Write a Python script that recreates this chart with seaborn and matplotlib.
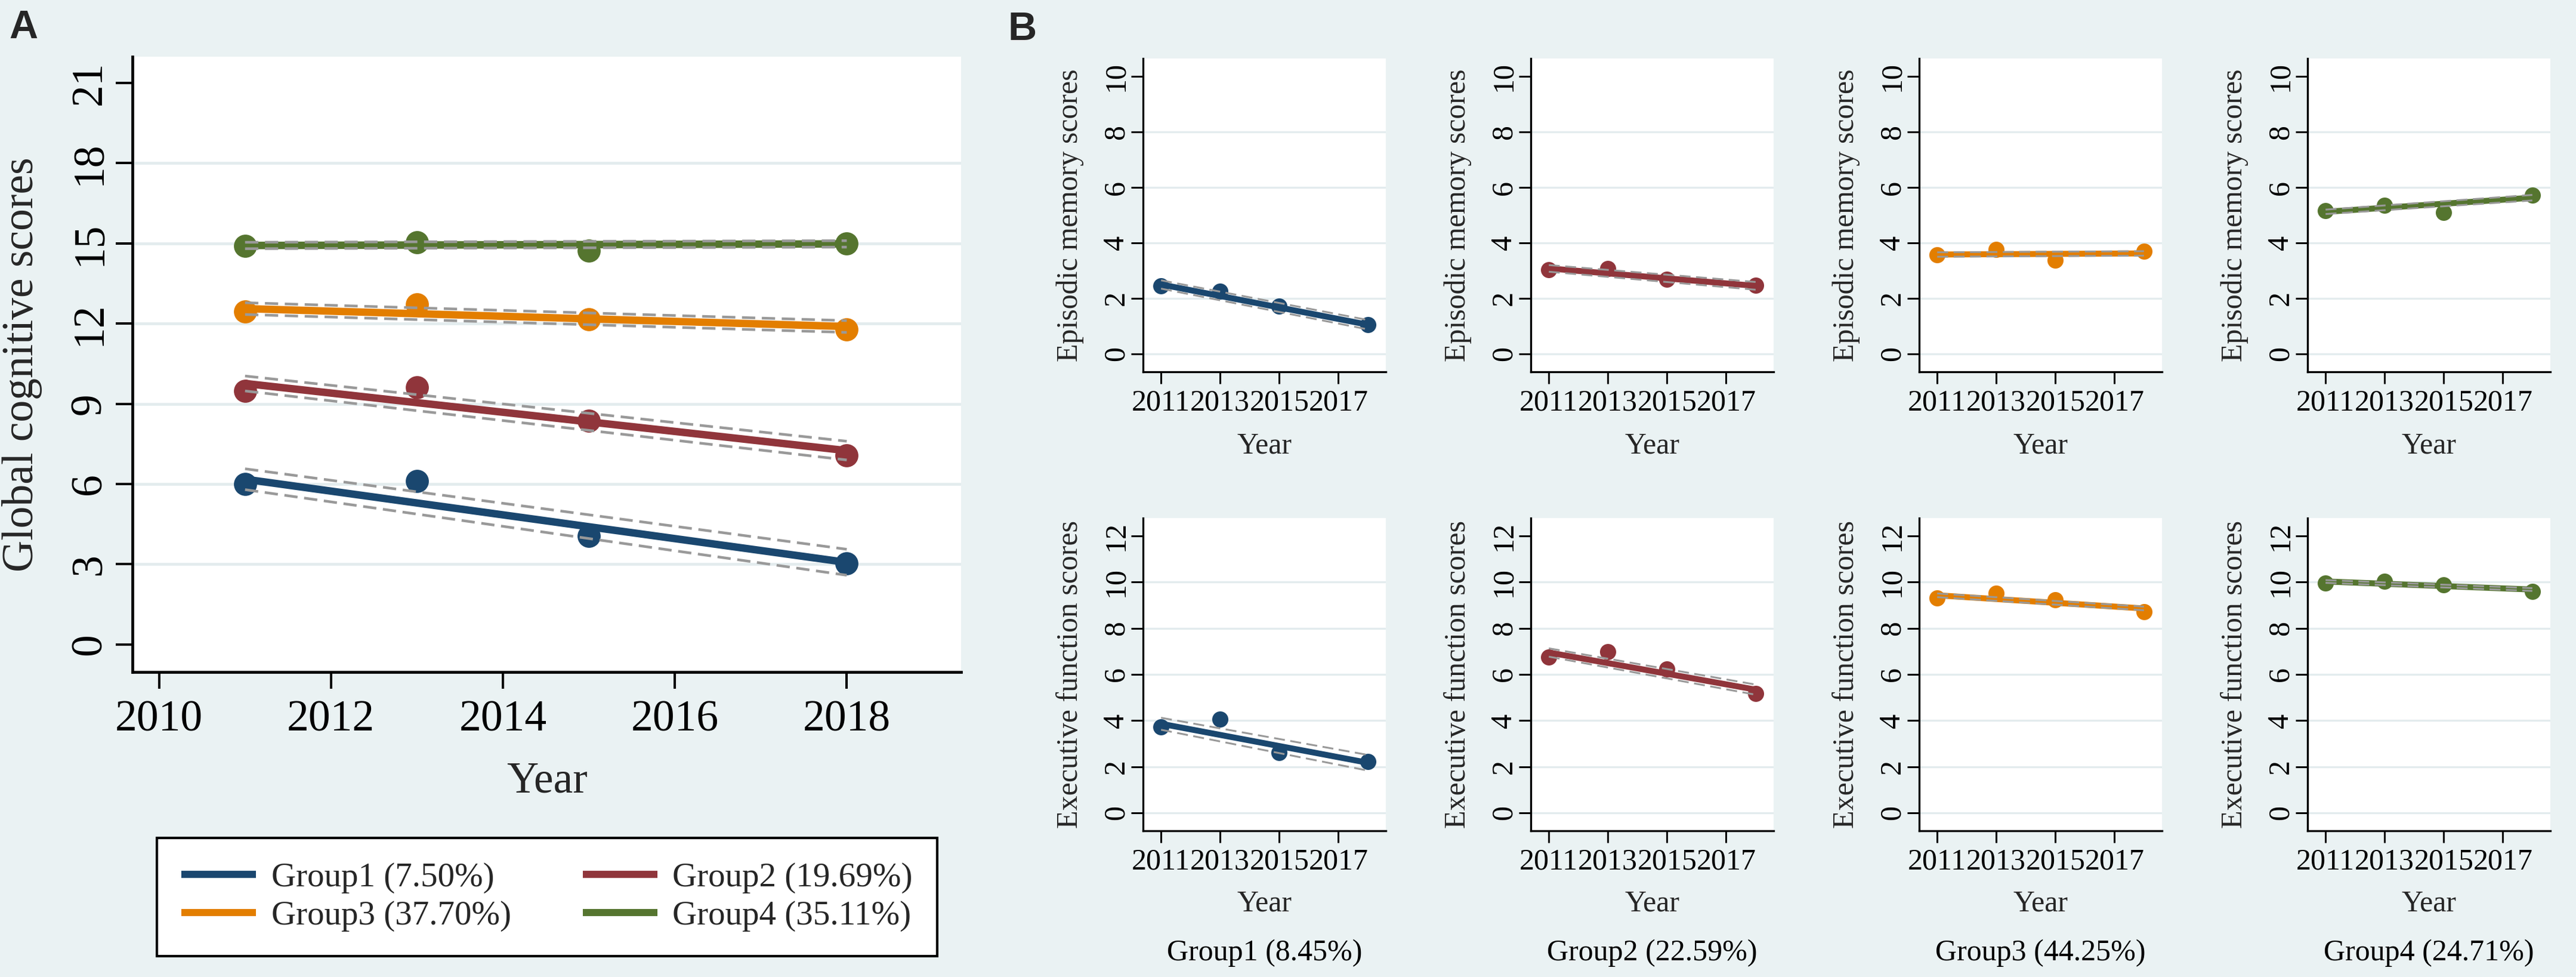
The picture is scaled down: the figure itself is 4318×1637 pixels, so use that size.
import matplotlib
matplotlib.use("Agg")
import matplotlib.pyplot as plt
import numpy as np
import pandas as pd
import seaborn as sns

# ---------------- data ----------------
years = [2011, 2013, 2015, 2018]
fit_years = [2011, 2018]
group_names = ["Group1", "Group2", "Group3", "Group4"]
legend_labels_A = ["Group1 (7.50%)", "Group2 (19.69%)", "Group3 (37.70%)", "Group4 (35.11%)"]
group_labels_B = ["Group1 (8.45%)", "Group2 (22.59%)", "Group3 (44.25%)", "Group4 (24.71%)"]

# Panel A: global cognitive scores
gcs_g1 = [6.00, 6.11, 4.06, 3.04]
gcs_g2 = [9.48, 9.61, 8.37, 7.07]
gcs_g3 = [12.44, 12.72, 12.17, 11.78]
gcs_g4 = [14.90, 15.04, 14.72, 15.00]
gcs_fit_g1 = [6.18, 3.07]; gcs_lo_g1 = [5.79, 2.59]; gcs_hi_g1 = [6.57, 3.56]
gcs_fit_g2 = [9.76, 7.25]; gcs_lo_g2 = [9.48, 6.90]; gcs_hi_g2 = [10.04, 7.60]
gcs_fit_g3 = [12.56, 11.89]; gcs_lo_g3 = [12.34, 11.67]; gcs_hi_g3 = [12.78, 12.11]
gcs_fit_g4 = [14.92, 14.98]; gcs_lo_g4 = [14.80, 14.86]; gcs_hi_g4 = [15.04, 15.10]

# Panel B top: episodic memory scores
epi_g1 = [2.45, 2.25, 1.72, 1.04]
epi_g2 = [3.03, 3.08, 2.68, 2.47]
epi_g3 = [3.57, 3.76, 3.38, 3.69]
epi_g4 = [5.17, 5.36, 5.10, 5.73]
epi_fit_g1 = [2.50, 1.05]; epi_lo_g1 = [2.35, 0.88]; epi_hi_g1 = [2.65, 1.22]
epi_fit_g2 = [3.08, 2.45]; epi_lo_g2 = [2.96, 2.31]; epi_hi_g2 = [3.20, 2.59]
epi_fit_g3 = [3.58, 3.62]; epi_lo_g3 = [3.50, 3.54]; epi_hi_g3 = [3.66, 3.70]
epi_fit_g4 = [5.12, 5.63]; epi_lo_g4 = [5.04, 5.53]; epi_hi_g4 = [5.20, 5.73]

# Panel B bottom: executive function scores
exe_g1 = [3.71, 4.07, 2.60, 2.22]
exe_g2 = [6.76, 6.99, 6.23, 5.16]
exe_g3 = [9.32, 9.52, 9.24, 8.72]
exe_g4 = [9.96, 10.03, 9.89, 9.59]
exe_fit_g1 = [3.86, 2.17]; exe_lo_g1 = [3.60, 1.83]; exe_hi_g1 = [4.12, 2.51]
exe_fit_g2 = [6.95, 5.34]; exe_lo_g2 = [6.77, 5.12]; exe_hi_g2 = [7.13, 5.56]
exe_fit_g3 = [9.43, 8.86]; exe_lo_g3 = [9.35, 8.78]; exe_hi_g3 = [9.51, 8.94]
exe_fit_g4 = [10.03, 9.68]; exe_lo_g4 = [9.97, 9.62]; exe_hi_g4 = [10.09, 9.74]

xticks_A = [2010, 2012, 2014, 2016, 2018]
yticks_A = [0, 3, 6, 9, 12, 15, 18, 21]
xticks_B = [2011, 2013, 2015, 2017]
yticks_epi = [0, 2, 4, 6, 8, 10]
yticks_exe = [0, 2, 4, 6, 8, 10, 12]

# ---------------- style ----------------
colors = ["#1a476f", "#90353b", "#e37e00", "#55752f"]
BG = "#eaf2f3"
GRID = "#e3ecee"
CI_COLOR = "#999999"

sns.set_theme(style="white")
plt.rcParams["font.family"] = ["Liberation Serif", "DejaVu Serif"]

W, H, DPI = 4318, 1637, 100
fig = plt.figure(figsize=(W / DPI, H / DPI), dpi=DPI, facecolor=BG)


def add_ax(left, top, right, bottom):
    return fig.add_axes([left / W, 1 - bottom / H, (right - left) / W, (bottom - top) / H])


def style_ax(ax, spine_w, tick_len, tick_w, fs, xpad, ypad):
    ax.set_facecolor("white")
    for s in ["top", "right"]:
        ax.spines[s].set_visible(False)
    for s in ["left", "bottom"]:
        ax.spines[s].set_color("black")
        ax.spines[s].set_linewidth(spine_w)
    ax.tick_params(axis="both", which="major", direction="out", length=tick_len,
                   width=tick_w, color="black", labelsize=fs, labelcolor="black",
                   left=True, bottom=True)
    ax.tick_params(axis="x", pad=xpad)
    ax.tick_params(axis="y", pad=ypad, labelrotation=90)
    for lab in ax.get_yticklabels():
        lab.set_va("center")


def draw_group(ax, means, fit, lo, hi, color, ms, lw, cilw, dash, label=None):
    dfp = pd.DataFrame({"year": years, "score": means})
    sns.scatterplot(data=dfp, x="year", y="score", ax=ax, color=color, s=ms,
                    linewidth=0, zorder=3, legend=False)
    dff = pd.DataFrame({"year": fit_years, "fit": fit, "lo": lo, "hi": hi})
    sns.lineplot(data=dff, x="year", y="fit", ax=ax, color=color, linewidth=lw,
                 zorder=4, errorbar=None, label=label, legend=False,
                 solid_capstyle="butt")
    for col in ["lo", "hi"]:
        sns.lineplot(data=dff, x="year", y=col, ax=ax, color=CI_COLOR, linewidth=cilw,
                     linestyle=(0, dash), zorder=5, errorbar=None, legend=False)


# ---------------- Panel A ----------------
axA = add_ax(222, 95, 1611, 1126)
gcs_means = [gcs_g1, gcs_g2, gcs_g3, gcs_g4]
gcs_fits = [gcs_fit_g1, gcs_fit_g2, gcs_fit_g3, gcs_fit_g4]
gcs_los = [gcs_lo_g1, gcs_lo_g2, gcs_lo_g3, gcs_lo_g4]
gcs_his = [gcs_hi_g1, gcs_hi_g2, gcs_hi_g3, gcs_hi_g4]
for gv in yticks_A[1:-1]:
    axA.axhline(gv, color=GRID, linewidth=3.4, zorder=0)
for i in range(4):
    draw_group(axA, gcs_means[i], gcs_fits[i], gcs_los[i], gcs_his[i], colors[i],
               ms=780, lw=9, cilw=3.2, dash=(5, 2.5), label=legend_labels_A[i])
axA.set_xlim(2009.69, 2019.33)
axA.set_ylim(-1.03, 21.98)
axA.set_xticks(xticks_A)
axA.set_yticks(yticks_A)
style_ax(axA, 3.4, 20, 2.9, 53, 13.5, 7)
axA.set_xlabel("Year", fontsize=53)
axA.xaxis.set_label_coords(0.5, -0.1455)
axA.set_ylabel("Global cognitive scores", fontsize=53)
axA.yaxis.set_label_coords(-0.109, 0.5)

# legend for panel A (row-wise order: Group1, Group2 / Group3, Group4)
order = [0, 2, 1, 3]
handles = [plt.Line2D([], [], color=colors[i], linewidth=8.6, solid_capstyle="butt") for i in order]
labels = [legend_labels_A[i] for i in order]
leg = fig.legend(handles, labels, loc="center", bbox_to_anchor=(917 / W, 1 - 1503 / H),
                 ncol=2, fontsize=41, frameon=True, fancybox=False, edgecolor="black",
                 facecolor="white", framealpha=1, handlelength=2.2, handletextpad=0.45,
                 columnspacing=2.1, borderpad=0.72, labelspacing=0.22, borderaxespad=0)
leg.get_frame().set_linewidth(3.0)

# ---------------- Panel B ----------------
col_left = [1916, 2566, 3217, 3868]
col_w = 407
epi_means = [epi_g1, epi_g2, epi_g3, epi_g4]
epi_fits = [epi_fit_g1, epi_fit_g2, epi_fit_g3, epi_fit_g4]
epi_los = [epi_lo_g1, epi_lo_g2, epi_lo_g3, epi_lo_g4]
epi_his = [epi_hi_g1, epi_hi_g2, epi_hi_g3, epi_hi_g4]
exe_means = [exe_g1, exe_g2, exe_g3, exe_g4]
exe_fits = [exe_fit_g1, exe_fit_g2, exe_fit_g3, exe_fit_g4]
exe_los = [exe_lo_g1, exe_lo_g2, exe_lo_g3, exe_lo_g4]
exe_his = [exe_hi_g1, exe_hi_g2, exe_hi_g3, exe_hi_g4]

for i in range(4):
    # top row: episodic memory
    ax = add_ax(col_left[i], 98, col_left[i] + col_w, 623)
    for gv in yticks_epi[:-1]:
        ax.axhline(gv, color=GRID, linewidth=2.4, zorder=0)
    draw_group(ax, epi_means[i], epi_fits[i], epi_los[i], epi_his[i], colors[i],
               ms=380, lw=7.2, cilw=2.2, dash=(6, 3))
    ax.set_xlim(2010.39, 2018.61)
    ax.set_ylim(-0.65, 10.65)
    ax.set_xticks(xticks_B)
    ax.set_yticks(yticks_epi)
    style_ax(ax, 2.4, 14.5, 2.2, 36, 6.5, 1)
    ax.set_xlabel("Year", fontsize=36)
    ax.xaxis.set_label_coords(0.5, -0.192)
    ax.set_ylabel("Episodic memory scores", fontsize=36)
    ax.yaxis.set_label_coords(-0.243, 0.5)

    # bottom row: executive function
    ax = add_ax(col_left[i], 868, col_left[i] + col_w, 1392)
    for gv in yticks_exe[:-1]:
        ax.axhline(gv, color=GRID, linewidth=2.4, zorder=0)
    draw_group(ax, exe_means[i], exe_fits[i], exe_los[i], exe_his[i], colors[i],
               ms=380, lw=7.2, cilw=2.2, dash=(6, 3))
    ax.set_xlim(2010.39, 2018.61)
    ax.set_ylim(-0.78, 12.78)
    ax.set_xticks(xticks_B)
    ax.set_yticks(yticks_exe)
    style_ax(ax, 2.4, 14.5, 2.2, 36, 6.5, 1)
    ax.set_xlabel("Year", fontsize=36)
    ax.xaxis.set_label_coords(0.5, -0.189)
    ax.set_ylabel("Executive function scores", fontsize=36)
    ax.yaxis.set_label_coords(-0.243, 0.5)
    ax.text(0.5, -0.391, group_labels_B[i], transform=ax.transAxes, ha="center",
            va="center", fontsize=36, color="black")

# panel letters
fig.text(15 / W, 1 - 47 / H, "A", fontsize=48, fontweight="bold", ha="left", va="center",
         family=["Liberation Sans", "DejaVu Sans"])
fig.text(1690 / W, 1 - 50 / H, "B", fontsize=48, fontweight="bold", ha="left", va="center",
         family=["Liberation Sans", "DejaVu Sans"])

fig.savefig("out.png", dpi=DPI, facecolor=BG)
